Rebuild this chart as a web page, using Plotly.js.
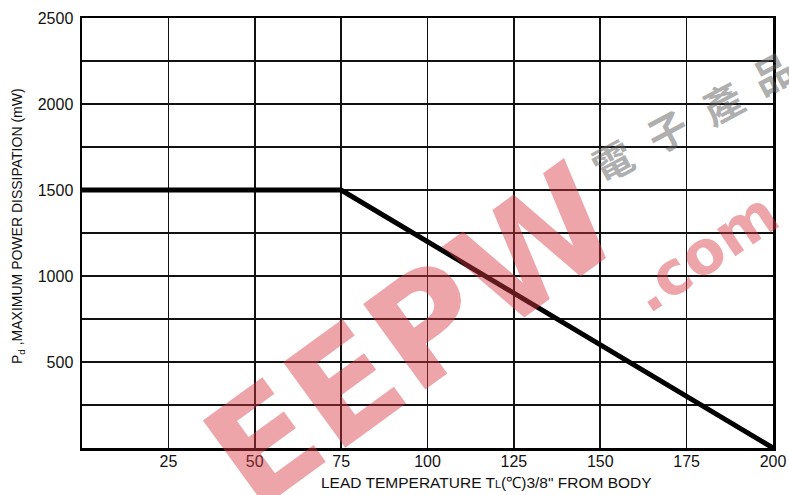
<!DOCTYPE html>
<html>
<head>
<meta charset="utf-8">
<script src="https://cdn.plot.ly/plotly-3.0.1.min.js"></script>
<style>html,body{margin:0;padding:0;background:#fff;}#chart{width:789px;height:495px;}</style>
</head>
<body>
<div id="chart"></div>
<script>
// Data
var leadTemp = [0, 75, 200];
var powerDissipation = [1500, 1500, 0];

var xTickVals = [25, 50, 75, 100, 125, 150, 175, 200];
var xTickText = ['25', '50', '75', '100', '125', '150', '175', '200'];
var yTickVals = [250, 500, 750, 1000, 1250, 1500, 1750, 2000, 2250, 2500];
var yTickText = ['', '500', '', '1000', '', '1500', '', '2000', '', '2500'];

var xTitle = 'LEAD TEMPERATURE T<span style="font-size:11px">L</span>(℃)3/8" FROM BODY';
var yTitle = 'P<sub>d</sub> ,MAXIMUM POWER DISSIPATION (mW)';

var L = 82, R = 16, T = 18, B = 47, W = 789, H = 495;
var pw = W - L - R, ph = H - T - B;
function px(x) { return (x - L) / pw; }
function py(y) { return (H - B - y) / ph; }

var font = 'Liberation Sans, Arial, Helvetica, sans-serif';

var trace = {
  x: leadTemp,
  y: powerDissipation,
  type: 'scatter',
  mode: 'lines',
  line: {color: '#000', width: 5},
  hoverinfo: 'none',
  cliponaxis: true
};

var annotations = [
  {xref: 'paper', yref: 'paper', x: px(486), y: py(482), text: xTitle, showarrow: false,
   font: {family: font, size: 15.5, color: '#111'}, xanchor: 'center', yanchor: 'middle'},
  {xref: 'paper', yref: 'paper', x: px(18), y: py(226), text: yTitle, showarrow: false, textangle: -90,
   font: {family: font, size: 14, color: '#111'}, xanchor: 'center', yanchor: 'middle'},
  // watermark
  {xref: 'paper', yref: 'paper', x: px(412), y: py(336), text: '<b>EEPW</b>', showarrow: false, textangle: -36,
   font: {family: 'DejaVu Sans, sans-serif', size: 145, color: 'rgba(215,55,65,0.45)'}, xanchor: 'center', yanchor: 'middle'},
  {xref: 'paper', yref: 'paper', x: px(704), y: py(252), text: '<b>.com</b>', showarrow: false, textangle: -34,
   font: {family: 'DejaVu Sans, sans-serif', size: 60, color: 'rgba(215,55,65,0.45)'}, xanchor: 'center', yanchor: 'middle'}
];
var wmChars = ['電', '子', '產', '品'];
var wmPos = [[612, 160], [667, 130], [722, 102], [772, 72]];
for (var i = 0; i < wmChars.length; i++) {
  annotations.push({xref: 'paper', yref: 'paper', x: px(wmPos[i][0]), y: py(wmPos[i][1]), text: '<b>' + wmChars[i] + '</b>',
    showarrow: false, textangle: -28,
    font: {family: 'Noto Sans CJK TC, sans-serif', size: 40, weight: 700, color: 'rgba(95,95,95,0.5)'},
    xanchor: 'center', yanchor: 'middle'});
}

var layout = {
  width: W, height: H,
  margin: {l: L, r: R, t: T, b: B, pad: 0},
  paper_bgcolor: '#fff', plot_bgcolor: '#fff',
  showlegend: false,
  font: {family: font, color: '#111'},
  xaxis: {
    range: [0, 200], tickmode: 'array', tickvals: xTickVals, ticktext: xTickText,
    showgrid: true, gridcolor: '#111', gridwidth: 1.6, zeroline: false,
    showline: true, linecolor: '#000', linewidth: 2.5, mirror: true,
    ticks: '', ticklabelstandoff: -3, tickfont: {family: font, size: 16, color: '#111'},
    fixedrange: true
  },
  yaxis: {
    range: [0, 2500], tickmode: 'array', tickvals: yTickVals, ticktext: yTickText,
    showgrid: true, gridcolor: '#111', gridwidth: 1.6, zeroline: false,
    showline: true, linecolor: '#000', linewidth: 2.5, mirror: true,
    ticks: '', ticklabelstandoff: 3, tickfont: {family: font, size: 16, color: '#111'},
    fixedrange: true
  },
  annotations: annotations
};

Plotly.newPlot('chart', [trace], layout, {displayModeBar: false, staticPlot: true});
</script>
</body>
</html>
